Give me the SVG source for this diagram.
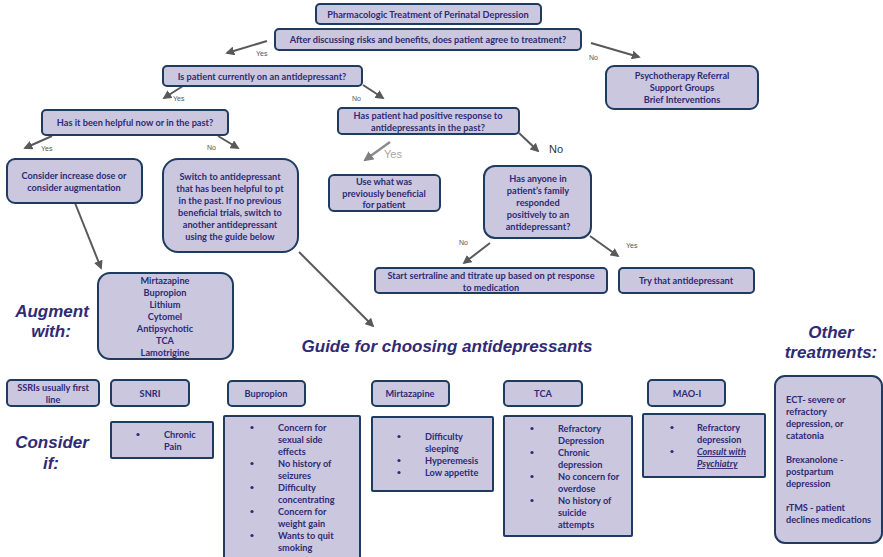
<svg xmlns="http://www.w3.org/2000/svg" width="883" height="557" viewBox="0 0 883 557">
<defs>
<marker id="ah" viewBox="0 0 10 10" refX="8" refY="5" markerWidth="4.5" markerHeight="4.5" orient="auto" markerUnits="strokeWidth">
<path d="M0,0 L10,5 L0,10 z" fill="#595959"/>
</marker>
<marker id="ahl" viewBox="0 0 10 10" refX="8" refY="5" markerWidth="4" markerHeight="4" orient="auto" markerUnits="strokeWidth">
<path d="M0,0 L10,5 L0,10 z" fill="#7f7f7f"/>
</marker>
</defs>
<style>
.b{fill:#cac7df;stroke:#1f3b60;stroke-width:2}
.t{font-family:Lato,"Liberation Sans",sans-serif;font-weight:700;font-size:9.2px;fill:#2f2a74;text-anchor:middle}
.l{font-family:Lato,"Liberation Sans",sans-serif;font-weight:700;font-size:9.2px;fill:#2f2a74}
.big{font-family:"Liberation Sans",Arial,sans-serif;font-weight:700;font-style:italic;font-size:17px;fill:#2f2a74;text-anchor:middle}
.yn{font-family:"Liberation Sans",Arial,sans-serif;font-size:7px;fill:#555}
.c{stroke:#595959;stroke-width:2;fill:none;marker-end:url(#ah)}
.dot{fill:#2f2a74}
</style>
<rect width="883" height="557" fill="#ffffff"/>

<g id="connectors">
<line class="c" x1="267" y1="41" x2="227" y2="53"/>
<line class="c" x1="591" y1="43" x2="639" y2="57"/>
<line class="c" x1="183" y1="86" x2="164" y2="98"/>
<line class="c" x1="363" y1="85" x2="383" y2="98"/>
<line class="c" x1="52" y1="136" x2="25" y2="148"/>
<line class="c" x1="218" y1="136" x2="238" y2="148"/>
<line x1="390" y1="142" x2="365" y2="160" stroke="#8c8c8c" stroke-width="2.5" marker-end="url(#ahl)"/>
<line class="c" x1="519" y1="133" x2="538" y2="151"/>
<line class="c" x1="490" y1="243" x2="464" y2="263"/>
<line class="c" x1="590" y1="236" x2="618" y2="256"/>
<line class="c" x1="75" y1="203" x2="101" y2="268"/>
<line class="c" x1="299" y1="252" x2="373" y2="326"/>
<text class="yn" x="256" y="56">Yes</text>
<text class="yn" x="589" y="60">No</text>
<text class="yn" x="173" y="101">Yes</text>
<text class="yn" x="352" y="101">No</text>
<text class="yn" x="41" y="151">Yes</text>
<text class="yn" x="207" y="150">No</text>
<text x="384" y="158" font-family="Liberation Sans,Arial,sans-serif" font-size="11" fill="#a6a6a6">Yes</text>
<text x="549" y="153" font-family="Liberation Sans,Arial,sans-serif" font-size="11" fill="#333">No</text>
<text class="yn" x="459" y="245">No</text>
<text class="yn" x="626" y="248">Yes</text>
</g>

<g id="title">
<rect class="b" x="316" y="4" width="225" height="20" rx="4"/>
<text class="t" x="428" y="17.5">Pharmacologic Treatment of Perinatal Depression</text>
</g>
<g id="q-agree">
<rect class="b" x="275" y="29" width="306" height="21" rx="4"/>
<text class="t" x="428" y="43">After discussing risks and benefits, does patient agree to treatment?</text>
</g>
<g id="psychotherapy">
<rect class="b" x="606" y="66" width="152" height="43" rx="8"/>
<text class="t" x="682" y="79">Psychotherapy Referral</text>
<text class="t" x="682" y="91">Support Groups</text>
<text class="t" x="682" y="103">Brief Interventions</text>
</g>
<g id="q-current">
<rect class="b" x="163" y="66" width="199" height="20" rx="4"/>
<text class="t" x="262" y="79.5">Is patient currently on an antidepressant?</text>
</g>
<g id="q-helpful">
<rect class="b" x="42" y="110" width="186" height="25" rx="4"/>
<text class="t" x="135" y="126">Has it been helpful now or in the past?</text>
</g>
<g id="q-positive">
<rect class="b" x="338" y="108" width="181" height="26" rx="4"/>
<text class="t" x="428" y="119">Has patient had positive response to</text>
<text class="t" x="428" y="131">antidepressants in the past?</text>
</g>
<g id="use-previous">
<rect class="b" x="329" y="175" width="111" height="36" rx="5"/>
<text class="t" x="384" y="185">Use what was</text>
<text class="t" x="384" y="196.5">previously beneficial</text>
<text class="t" x="384" y="207.5">for patient</text>
</g>
<g id="q-family">
<rect class="b" x="484" y="166" width="107" height="72" rx="11"/>
<text class="t" x="538" y="182">Has anyone in</text>
<text class="t" x="538" y="194">patient’s family</text>
<text class="t" x="538" y="206">responded</text>
<text class="t" x="538" y="218">positively to an</text>
<text class="t" x="538" y="230">antidepressant?</text>
</g>
<g id="sertraline">
<rect class="b" x="375" y="268" width="232" height="25" rx="4"/>
<text class="t" x="491" y="279">Start sertraline and titrate up based on pt response</text>
<text class="t" x="491" y="290.5">to medication</text>
</g>
<g id="try-that">
<rect class="b" x="619" y="268" width="135" height="25" rx="4"/>
<text class="t" x="686" y="284">Try that antidepressant</text>
</g>
<g id="increase-dose">
<rect class="b" x="7" y="159" width="135" height="44" rx="8"/>
<text class="t" x="74" y="179">Consider increase dose or</text>
<text class="t" x="74" y="191">consider augmentation</text>
</g>
<g id="switch">
<rect class="b" x="163" y="159" width="135" height="93" rx="15"/>
<text class="t" x="230" y="180">Switch to  antidepressant</text>
<text class="t" x="230" y="192">that has been helpful to pt</text>
<text class="t" x="230" y="204">in the past. If no previous</text>
<text class="t" x="230" y="215.5">beneficial trials, switch to</text>
<text class="t" x="230" y="227.5">another antidepressant</text>
<text class="t" x="230" y="239.5">using the guide below</text>
</g>
<g id="augment-list">
<rect class="b" x="98" y="273" width="135" height="86" rx="12"/>
<text class="t" x="165" y="284">Mirtazapine</text>
<text class="t" x="165" y="296">Bupropion</text>
<text class="t" x="165" y="308">Lithium</text>
<text class="t" x="165" y="320">Cytomel</text>
<text class="t" x="165" y="332">Antipsychotic</text>
<text class="t" x="165" y="344">TCA</text>
<text class="t" x="165" y="356">Lamotrigine</text>
</g>
<g id="labels">
<text class="big" x="52" y="317">Augment</text>
<text class="big" x="51" y="337">with:</text>
<text class="big" x="447" y="352">Guide for choosing antidepressants</text>
<text class="big" x="831" y="338">Other</text>
<text class="big" x="831" y="358">treatments:</text>
<text class="big" x="52" y="448">Consider</text>
<text class="big" x="51" y="469">if:</text>
</g>
<g id="ssri">
<rect class="b" x="7" y="380" width="92" height="26" rx="4"/>
<text class="t" x="53" y="390.5">SSRIs usually first</text>
<text class="t" x="53" y="402.5">line</text>
</g>
<g id="snri">
<rect class="b" x="111" y="380" width="78" height="26" rx="4"/>
<text class="t" x="150" y="397">SNRI</text>
<rect class="b" x="111" y="422" width="102" height="36" rx="1"/>
<circle class="dot" cx="138" cy="434.5" r="1.6"/>
<text class="l" x="164" y="438">Chronic</text>
<text class="l" x="164" y="450">Pain</text>
</g>
<g id="bupropion">
<rect class="b" x="228" y="381" width="77" height="25" rx="4"/>
<text class="t" x="266" y="397">Bupropion</text>
<rect class="b" x="224" y="416" width="136" height="145" rx="1"/>
<circle class="dot" cx="252" cy="427.5" r="1.6"/>
<circle class="dot" cx="252" cy="463.5" r="1.6"/>
<circle class="dot" cx="252" cy="487.5" r="1.6"/>
<circle class="dot" cx="252" cy="511.5" r="1.6"/>
<circle class="dot" cx="252" cy="535.5" r="1.6"/>
<text class="l" x="278" y="431">Concern for</text>
<text class="l" x="278" y="443">sexual side</text>
<text class="l" x="278" y="455">effects</text>
<text class="l" x="278" y="467">No history of</text>
<text class="l" x="278" y="479">seizures</text>
<text class="l" x="278" y="491">Difficulty</text>
<text class="l" x="278" y="503">concentrating</text>
<text class="l" x="278" y="515">Concern for</text>
<text class="l" x="278" y="527">weight gain</text>
<text class="l" x="278" y="539">Wants to quit</text>
<text class="l" x="278" y="551">smoking</text>
</g>
<g id="mirtazapine">
<rect class="b" x="372" y="381" width="77" height="25" rx="4"/>
<text class="t" x="410" y="397">Mirtazapine</text>
<rect class="b" x="372" y="417" width="121" height="74" rx="1"/>
<circle class="dot" cx="399" cy="436.5" r="1.6"/>
<circle class="dot" cx="399" cy="460.5" r="1.6"/>
<circle class="dot" cx="399" cy="472.5" r="1.6"/>
<text class="l" x="425" y="440">Difficulty</text>
<text class="l" x="425" y="452">sleeping</text>
<text class="l" x="425" y="464">Hyperemesis</text>
<text class="l" x="425" y="476">Low appetite</text>
</g>
<g id="tca">
<rect class="b" x="504" y="381" width="78" height="25" rx="4"/>
<text class="t" x="543" y="397">TCA</text>
<rect class="b" x="504" y="416" width="128" height="120" rx="1"/>
<circle class="dot" cx="532" cy="428.5" r="1.6"/>
<circle class="dot" cx="532" cy="452.5" r="1.6"/>
<circle class="dot" cx="532" cy="476.5" r="1.6"/>
<circle class="dot" cx="532" cy="500.5" r="1.6"/>
<text class="l" x="558" y="432">Refractory</text>
<text class="l" x="558" y="444">Depression</text>
<text class="l" x="558" y="456">Chronic</text>
<text class="l" x="558" y="468">depression</text>
<text class="l" x="558" y="480">No concern for</text>
<text class="l" x="558" y="492">overdose</text>
<text class="l" x="558" y="504">No history of</text>
<text class="l" x="558" y="516">suicide</text>
<text class="l" x="558" y="528">attempts</text>
</g>
<g id="maoi">
<rect class="b" x="648" y="380" width="77" height="26" rx="4"/>
<text class="t" x="687" y="396.5">MAO-I</text>
<rect class="b" x="643" y="414" width="122" height="63" rx="1"/>
<circle class="dot" cx="672" cy="427.5" r="1.6"/>
<circle class="dot" cx="672" cy="451.5" r="1.6"/>
<text class="l" x="697" y="431">Refractory</text>
<text class="l" x="697" y="443">depression</text>
<text class="l" x="697" y="455" font-style="italic" text-decoration="underline">Consult with</text>
<text class="l" x="697" y="467" font-style="italic" text-decoration="underline">Psychiatry</text>
</g>
<g id="other">
<rect class="b" x="775" y="376" width="107" height="167" rx="10"/>
<text class="l" x="786" y="403">ECT- severe or</text>
<text class="l" x="786" y="415">refractory</text>
<text class="l" x="786" y="427">depression, or</text>
<text class="l" x="786" y="439">catatonia</text>
<text class="l" x="786" y="463">Brexanolone -</text>
<text class="l" x="786" y="475">postpartum</text>
<text class="l" x="786" y="487">depression</text>
<text class="l" x="786" y="511">rTMS - patient</text>
<text class="l" x="786" y="523">declines medications</text>
</g>
</svg>
